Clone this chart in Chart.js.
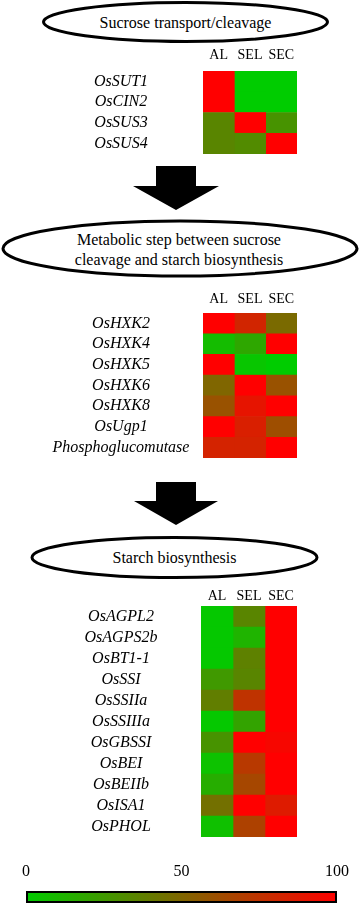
<!DOCTYPE html>
<html><head><meta charset="utf-8">
<script src="https://cdn.jsdelivr.net/npm/chart.js@4.4.0/dist/chart.umd.min.js"></script>
<style>
body{margin:0;background:#fff;}
#root{position:relative;width:359px;height:904px;overflow:hidden;font-family:"Liberation Serif",serif;background:#fff;}
.box{position:absolute;left:0;width:359px;}
.title{position:absolute;font-size:16px;color:#000;text-align:center;line-height:20px;white-space:nowrap;transform:translate(-50%,-50%);}
</style></head><body>
<div id="root">
<svg width="359" height="904" style="position:absolute;left:0;top:0">
<ellipse cx="185.5" cy="22" rx="142" ry="19.5" fill="#fff" stroke="#000" stroke-width="3"/>
<polygon points="156,166 196,166 196,186 219,186 176,210 133,186 156,186" fill="#000"/>
<ellipse cx="180" cy="248.5" rx="177" ry="27.5" fill="#fff" stroke="#000" stroke-width="3"/>
<polygon points="156,482 196,482 196,501 218,501 176,525 134,501 156,501" fill="#000"/>
<ellipse cx="174.5" cy="557.5" rx="142.5" ry="20" fill="#fff" stroke="#000" stroke-width="3"/>
</svg>
<div class="title" style="left:185.5px;top:23px">Sucrose transport/cleavage</div>
<div class="title" style="left:179px;top:250px">Metabolic step between sucrose<br>cleavage and starch biosynthesis</div>
<div class="title" style="left:174.5px;top:558px">Starch biosynthesis</div>
<div class="box" style="top:40px;height:114px"><canvas id="h1"></canvas></div>
<div class="box" style="top:282px;height:176px"><canvas id="h2"></canvas></div>
<div class="box" style="top:575px;height:262px"><canvas id="h3"></canvas></div>
<div class="box" style="top:858px;height:46px"><canvas id="cb"></canvas></div>
</div>
<script>
// ---- data ----
const columns = ['AL', 'SEL', 'SEC'];

const genes1 = ['OsSUT1', 'OsCIN2', 'OsSUS3', 'OsSUS4'];
const al1  = [100, 100, 35, 35];
const sel1 = [0, 0, 100, 32];
const sec1 = [0, 0, 28, 100];

const genes2 = ['OsHXK2', 'OsHXK4', 'OsHXK5', 'OsHXK6', 'OsHXK8', 'OsUgp1', 'Phosphoglucomutase'];
const al2  = [100, 8, 100, 50, 60, 100, 83];
const sel2 = [82, 18, 3, 100, 90, 85, 83];
const sec2 = [48, 100, 0, 60, 100, 62, 100];

const genes3 = ['OsAGPL2', 'OsAGPS2b', 'OsBT1-1', 'OsSSI', 'OsSSIIa', 'OsSSIIIa', 'OsGBSSI', 'OsBEI', 'OsBEIIb', 'OsISA1', 'OsPHOL'];
const al3  = [2, 2, 2, 25, 38, 2, 28, 5, 15, 45, 6];
const sel3 = [35, 12, 37, 35, 75, 20, 100, 72, 65, 100, 68];
const sec3 = [100, 100, 100, 100, 100, 100, 97, 100, 100, 87, 100];

const scaleTicks = [0, 50, 100];

// ---- colour scale ----
const LOW = [0, 204, 0], HIGH = [255, 0, 0];
function colorFor(v) {
  const t = Math.max(0, Math.min(1, v / 100));
  const c = LOW.map((l, i) => Math.round(l + (HIGH[i] - l) * t));
  return `rgb(${c[0]},${c[1]},${c[2]})`;
}

const LABEL_CENTER = 121;
const FONT = '"Liberation Serif", serif';

function heat(id, genes, vals, labelPad, areaLeft, areaRight) {
  const canvas = document.getElementById(id);
  const mctx = canvas.getContext('2d');
  mctx.font = 'italic 16px "Liberation Serif"';
  const widest = Math.max(...genes.map(g => mctx.measureText(g).width));
  const pad = areaLeft - LABEL_CENTER - widest / 2;
  new Chart(canvas, {
    type: 'bar',
    data: {
      labels: genes,
      datasets: vals.map((v, i) => ({
        label: columns[i],
        data: v.map(() => 1),
        backgroundColor: v.map(colorFor),
        borderWidth: 0,
        barPercentage: 1,
        categoryPercentage: 1,
        xAxisID: 'x', yAxisID: 'y'
      }))
    },
    options: {
      indexAxis: 'y',
      responsive: true, maintainAspectRatio: false, animation: false,
      layout: { padding: { left: 0, right: 359 - areaRight, top: 0, bottom: 0 } },
      plugins: { legend: { display: false }, tooltip: { enabled: false } },
      scales: {
        x: { type: 'linear', stacked: true, min: 0, max: 3, display: false },
        x2: {
          type: 'category', labels: columns, position: 'top', offset: true,
          grid: { display: false, drawTicks: false }, border: { display: false },
          ticks: { color: '#000', font: { family: FONT, size: 14 }, padding: labelPad, maxRotation: 0, autoSkip: false },
          afterFit: s => { s.height = 31; s.paddingLeft = 0; s.paddingRight = 0; }
        },
        y: {
          type: 'category', stacked: true,
          grid: { display: false, drawTicks: false }, border: { display: false },
          ticks: { color: '#000', crossAlign: 'center', padding: pad, autoSkip: false,
                   font: { family: FONT, size: 16, style: 'italic' } },
          afterFit: s => { s.width = areaLeft; s.paddingTop = 0; s.paddingBottom = 0; }
        }
      }
    }
  });
}

heat('h1', genes1, [al1, sel1, sec1], 7, 203, 297);
heat('h2', genes2, [al2, sel2, sec2], 5, 203, 297);
heat('h3', genes3, [al3, sel3, sec3], 1, 201, 297);

// ---- colour bar ----
new Chart(document.getElementById('cb'), {
  type: 'bar',
  data: {
    labels: ['scale'],
    datasets: [{
      data: [[scaleTicks[0], scaleTicks[scaleTicks.length - 1]]],
      backgroundColor: (ctx) => {
        const ca = ctx.chart.chartArea;
        if (!ca) return colorFor(50);
        const g = ctx.chart.ctx.createLinearGradient(ca.left, 0, ca.right, 0);
        g.addColorStop(0, colorFor(0));
        g.addColorStop(1, colorFor(100));
        return g;
      },
      borderColor: '#000', borderWidth: 2, borderSkipped: false,
      barPercentage: 1, categoryPercentage: 1, inflateAmount: 0
    }]
  },
  options: {
    indexAxis: 'y',
    responsive: true, maintainAspectRatio: false, animation: false,
    layout: { padding: { left: 26, right: 14, top: 0, bottom: 1 } },
    plugins: { legend: { display: false }, tooltip: { enabled: false } },
    scales: {
      x: {
        type: 'linear', min: 0, max: 100, position: 'top',
        grid: { display: false, drawTicks: false }, border: { display: false },
        ticks: { color: '#000', font: { family: FONT, size: 16 }, padding: 10, maxRotation: 0 },
        afterBuildTicks: s => { s.ticks = scaleTicks.map(v => ({ value: v })); },
        afterFit: s => { s.height = 33; }
      },
      y: { display: false }
    }
  }
});
</script>
</body></html>
